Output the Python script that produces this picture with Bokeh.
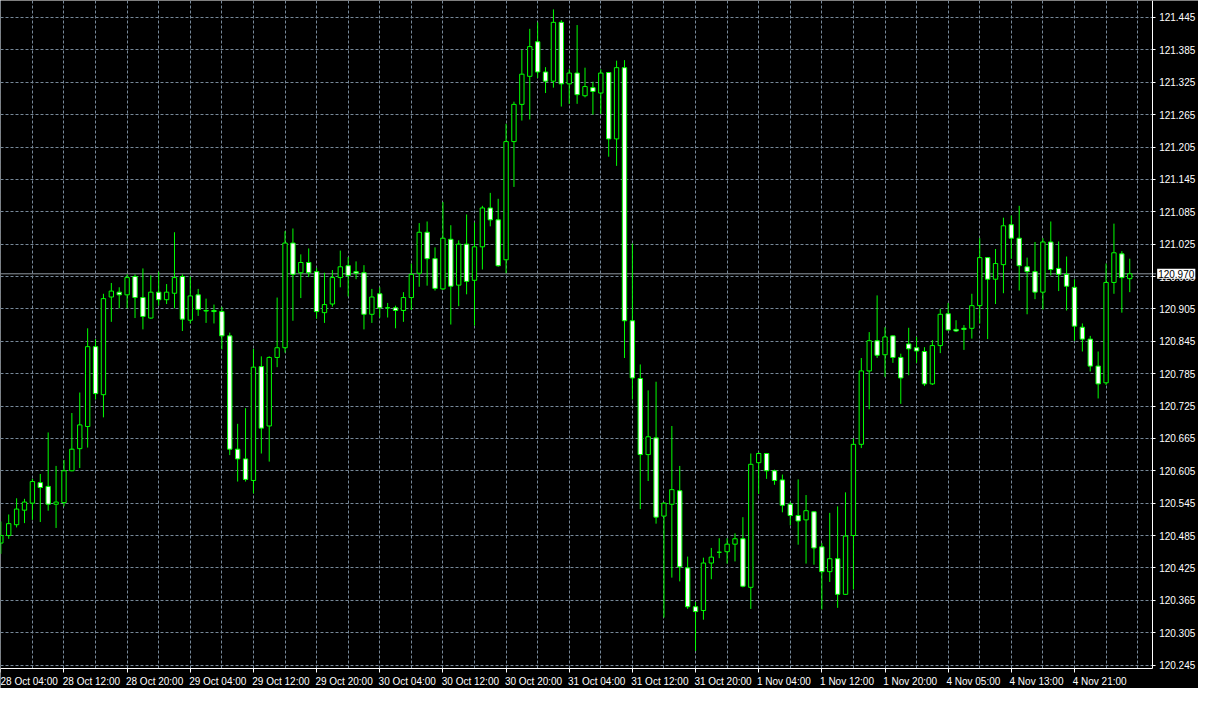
from bokeh.plotting import figure
from bokeh.models import (ColumnDataSource, FixedTicker, Label, Range1d,
                          PrintfTickFormatter, LinearAxis)
from bokeh.embed import file_html
from bokeh.resources import INLINE

# Hourly OHLC bars
opens = [120.471,120.485,120.505,120.532,120.545,120.583,120.576,120.543,120.546,120.605,
         120.646,120.687,120.835,120.746,120.927,120.936,120.931,120.965,120.926,120.888,
         120.936,120.922,120.934,120.965,120.884,120.931,120.902,120.902,120.900,120.855,
         120.645,120.627,120.587,120.798,120.688,120.815,120.833,121.027,120.972,120.991,
         120.974,120.898,120.914,120.963,120.985,120.974,120.972,120.895,120.933,120.907,
         120.907,120.902,120.926,120.971,121.047,120.998,120.942,121.034,120.949,121.025,
         120.958,121.020,121.092,121.070,120.996,121.215,121.284,121.336,121.400,121.344,
         121.327,121.436,121.322,121.342,121.300,121.315,121.305,121.343,121.220,121.352,
         120.883,120.776,120.635,120.666,120.521,120.543,120.568,120.425,120.353,120.346,
         120.434,120.454,120.455,120.469,120.479,120.389,120.620,120.637,120.605,120.588,
         120.543,120.522,120.514,120.529,120.464,120.418,120.442,120.376,120.485,120.654,
         120.790,120.846,120.820,120.855,120.815,120.840,120.833,120.826,120.766,120.837,
         120.896,120.867,120.869,120.869,120.911,121.000,120.960,120.987,121.061,121.036,
         120.983,120.974,120.936,121.029,120.980,120.969,120.945,120.871,120.849,120.799,
         120.768,120.954,121.007,120.961]
highs = [120.511,120.524,120.554,120.553,120.590,120.599,120.676,120.614,120.625,120.712,
         120.750,120.869,120.849,120.933,120.953,120.945,120.969,120.969,120.980,120.967,
         120.974,120.951,121.047,120.969,120.965,120.942,120.924,120.913,120.909,120.861,
         120.692,120.721,120.831,120.817,120.817,120.926,121.049,121.054,121.006,121.017,
         120.981,120.972,120.977,121.013,121.001,120.993,120.986,120.942,120.945,120.916,
         120.911,120.936,120.989,121.064,121.067,121.019,121.103,121.060,121.032,121.080,
         121.065,121.096,121.120,121.109,121.248,121.289,121.385,121.424,121.436,121.353,
         121.460,121.440,121.349,121.431,121.352,121.326,121.349,121.344,121.365,121.366,
         121.026,120.802,120.754,120.770,120.547,120.688,120.614,120.446,120.362,120.444,
         120.462,120.480,120.480,120.489,120.519,120.637,120.639,120.638,120.607,120.598,
         120.547,120.589,120.560,120.530,120.471,120.527,120.539,120.565,120.665,120.814,
         120.862,120.930,120.871,120.856,120.822,120.870,120.853,120.834,120.847,120.905,
         120.916,120.884,120.875,120.933,121.036,121.001,121.016,121.074,121.078,121.096,
         121.000,121.029,121.036,121.067,121.030,121.002,120.960,120.878,120.855,120.826,
         120.989,121.063,121.012,120.998]
lows = [120.451,120.479,120.500,120.508,120.514,120.510,120.531,120.499,120.539,120.604,
        120.610,120.648,120.737,120.704,120.881,120.906,120.906,120.888,120.867,120.887,
        120.911,120.914,120.906,120.864,120.878,120.892,120.879,120.878,120.830,120.634,
        120.585,120.585,120.563,120.637,120.622,120.797,120.824,120.883,120.925,120.964,
        120.887,120.879,120.909,120.945,120.928,120.960,120.867,120.879,120.889,120.889,
        120.869,120.881,120.903,120.946,120.948,120.939,120.940,120.876,120.910,120.932,
        120.874,120.978,121.058,120.983,120.971,121.131,121.254,121.256,121.333,121.305,
        121.315,121.280,121.285,121.285,121.297,121.265,121.266,121.187,121.170,120.814,
        120.737,120.534,120.586,120.507,120.333,120.407,120.400,120.349,120.271,120.329,
        120.404,120.443,120.433,120.437,120.389,120.349,120.562,120.590,120.579,120.528,
        120.504,120.468,120.433,120.431,120.348,120.399,120.351,120.375,120.385,120.647,
        120.719,120.814,120.779,120.805,120.729,120.782,120.805,120.762,120.764,120.823,
        120.865,120.862,120.829,120.850,120.878,120.849,120.914,120.934,120.998,120.939,
        120.895,120.923,120.904,120.967,120.938,120.902,120.846,120.826,120.789,120.739,
        120.764,120.933,120.898,120.936]
closes = [120.485,120.507,120.534,120.547,120.585,120.574,120.543,120.547,120.605,120.645,
          120.690,120.835,120.748,120.924,120.938,120.931,120.963,120.926,120.891,120.936,
          120.922,120.936,120.963,120.886,120.929,120.904,120.901,120.900,120.855,120.645,
          120.627,120.589,120.797,120.684,120.815,120.833,121.027,120.969,120.991,120.972,
          120.900,120.913,120.963,120.983,120.967,120.971,120.895,120.927,120.907,120.907,
          120.902,120.926,120.969,121.047,120.998,120.943,121.036,120.947,121.025,120.956,
          121.020,121.092,121.070,120.985,121.215,121.284,121.340,121.391,121.344,121.327,
          121.436,121.322,121.342,121.302,121.317,121.308,121.342,121.220,121.352,120.883,
          120.777,120.635,120.668,120.519,120.545,120.570,120.427,120.353,120.344,120.434,
          120.445,120.454,120.469,120.479,120.391,120.617,120.637,120.605,120.587,120.541,
          120.522,120.512,120.531,120.462,120.418,120.442,120.376,120.484,120.654,120.790,
          120.846,120.819,120.853,120.815,120.777,120.831,120.827,120.766,120.837,120.895,
          120.866,120.864,120.867,120.911,121.000,120.960,120.989,121.059,121.036,120.985,
          120.974,120.936,121.029,120.978,120.969,120.947,120.873,120.849,120.799,120.766,
          120.954,121.009,120.963,120.970]

time_labels = ["28 Oct 04:00", "28 Oct 12:00", "28 Oct 20:00", "29 Oct 04:00", "29 Oct 12:00",
               "29 Oct 20:00", "30 Oct 04:00", "30 Oct 12:00", "30 Oct 20:00", "31 Oct 04:00",
               "31 Oct 12:00", "31 Oct 20:00", "1 Nov 04:00", "1 Nov 12:00", "1 Nov 20:00",
               "4 Nov 05:00", "4 Nov 13:00", "4 Nov 21:00"]
bars_per_label = 8
price_ticks = [120.245, 120.305, 120.365, 120.425, 120.485, 120.545, 120.605, 120.665, 120.725,
               120.785, 120.845, 120.905, 120.965, 121.025, 121.085, 121.145, 121.205, 121.265,
               121.325, 121.385, 121.445]
last_price = 120.970

GREEN = "#00ff00"
GRID = "#778899"
FONT = "Liberation Sans"

# view window (bar units / price units); axes sit inside the window like MT4
X0, X1 = -0.04, 151.71
Y0, Y1 = 120.2015, 121.4765
AXIS_X = 145.84       # price scale position (right edge of chart area)
AXIS_Y = 120.2377     # time scale position (bottom edge of chart area)

n = len(opens)
xs = list(range(n))
tops = [max(o, c) for o, c in zip(opens, closes)]
bots = [min(o, c) for o, c in zip(opens, closes)]
fills = ["white" if c < o else "black" for o, c in zip(opens, closes)]
src = ColumnDataSource(dict(x=xs, h=highs, l=lows, top=tops, bottom=bots, fill=fills))

p = figure(width=1198, height=688, output_backend="svg", toolbar_location=None,
           x_range=Range1d(X0, X1), y_range=Range1d(Y0, Y1),
           x_axis_location=None, y_axis_location=None,
           min_border_left=0, min_border_top=0, min_border_right=0, min_border_bottom=0)
p.background_fill_color = "black"
p.border_fill_color = "black"
p.outline_line_color = None

# time axis: minor ticks mark bar positions, labels start at the tick (left aligned)
label_pos = [i * bars_per_label for i in range(len(time_labels))]
label_ctr = [round(pos + len(t) * 0.29, 2) for pos, t in zip(label_pos, time_labels)]
xaxis = LinearAxis(fixed_location=AXIS_Y, bounds=(X0, AXIS_X),
                   ticker=FixedTicker(ticks=label_ctr, minor_ticks=label_pos),
                   major_label_overrides={c: t for c, t in zip(label_ctr, time_labels)})
xaxis.axis_line_color = "white"
xaxis.major_tick_line_color = None
xaxis.major_tick_out = 0
xaxis.major_tick_in = 0
xaxis.minor_tick_line_color = "white"
xaxis.minor_tick_out = 4
xaxis.minor_tick_in = 0
xaxis.major_label_standoff = 3
xaxis.major_label_text_color = "white"
xaxis.major_label_text_font = FONT
xaxis.major_label_text_font_size = "10px"
p.add_layout(xaxis, "below")

yaxis = LinearAxis(fixed_location=AXIS_X, bounds=(AXIS_Y, Y1),
                   ticker=FixedTicker(ticks=price_ticks),
                   formatter=PrintfTickFormatter(format="%.3f"))
yaxis.axis_line_color = "white"
yaxis.major_tick_line_color = "white"
yaxis.minor_tick_line_color = None
yaxis.major_tick_out = 3
yaxis.major_tick_in = 0
yaxis.major_label_standoff = 4
yaxis.major_label_text_color = "white"
yaxis.major_label_text_font = FONT
yaxis.major_label_text_font_size = "10px"
p.add_layout(yaxis, "right")

p.xgrid.ticker = FixedTicker(ticks=list(range(0, n + 1, 4)))
p.xgrid.cross_bounds = (AXIS_Y, Y1)
p.ygrid.ticker = FixedTicker(ticks=price_ticks)
p.ygrid.cross_bounds = (X0, AXIS_X)
for g in (p.xgrid, p.ygrid):
    g.grid_line_color = GRID
    g.grid_line_dash = "3 2"
    g.grid_line_width = 1

# last price line
p.segment(x0=[X0], x1=[AXIS_X + 0.5], y0=[last_price], y1=[last_price],
          line_color="#8e969e", line_width=1)

p.segment(x0="x", y0="h", x1="x", y1="l", line_color=GREEN, line_width=1, source=src)
p.vbar(x="x", width=0.55, top="top", bottom="bottom", fill_color="fill",
       line_color=GREEN, line_width=1, source=src)

p.add_layout(Label(x=AXIS_X, y=last_price, x_offset=5, text=f"{last_price:.3f}",
                   text_align="left", text_baseline="middle", text_color="black",
                   text_font=FONT, text_font_size="10px",
                   background_fill_color="white", padding=1, level="overlay"))

open("out.html", "w").write(file_html(p, INLINE))
